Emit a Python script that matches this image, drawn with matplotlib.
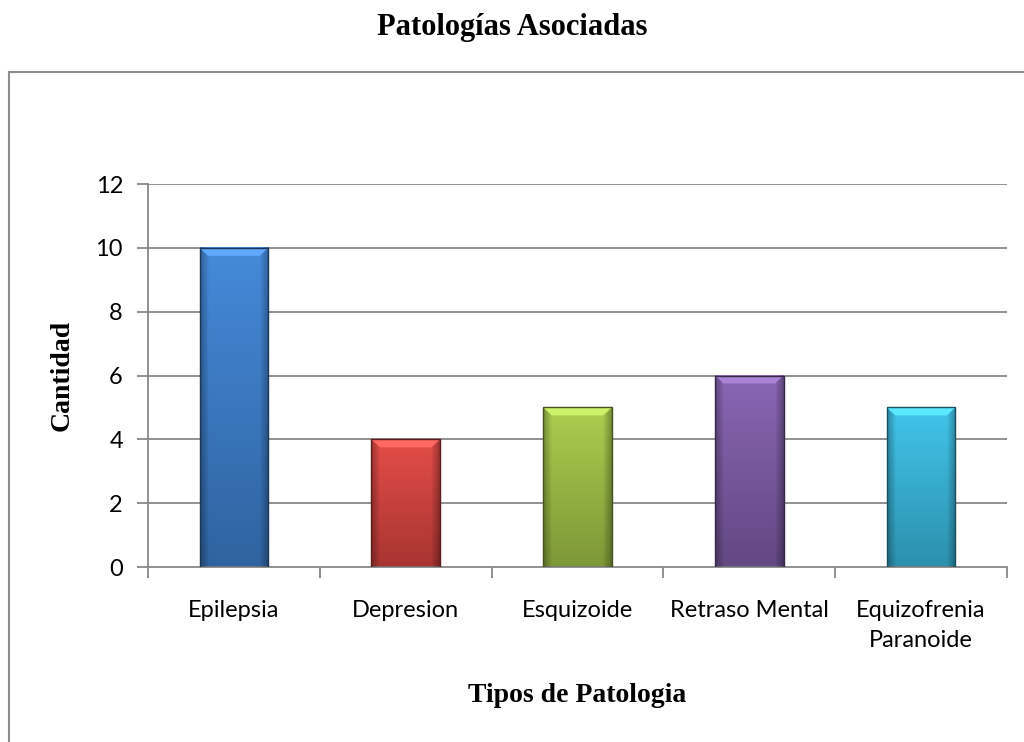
import numpy as np
import matplotlib.pyplot as plt
from matplotlib.lines import Line2D
from matplotlib.patches import Polygon
from matplotlib.colors import to_rgb

categorias = ['Epilepsia', 'Depresion', 'Esquizoide', 'Retraso Mental', 'Equizofrenia\nParanoide']
cantidad = [10, 4, 5, 6, 5]
colores = ['#3b7cc8', '#d2423e', '#9cbd45', '#7c5aa4', '#37b4d8']

fig = plt.figure(figsize=(10.24, 7.42), dpi=100)
ax = fig.add_axes([148/1024, 1-567/742, (1007-148)/1024, (567-184)/742])

grid_col = '#888888'
ax.set_xlim(-0.5, len(categorias) - 0.5)
ax.set_ylim(0, 12)
ax.set_yticks(range(0, 13, 2))
for y in range(2, 13, 2):
    ax.axhline(y, color=grid_col, lw=1.3, zorder=1)

# Bars with simple vertical gradient and a bevelled top
w = 0.4
for i, (v, c) in enumerate(zip(cantidad, colores)):
    base = np.array(to_rgb(c))
    light = np.clip(base * 1.05 + 0.03, 0, 1)
    dark = base * 0.8
    grad = np.linspace(0, 1, 100)[:, None, None]
    img = dark * (1 - grad) + light * grad
    ax.imshow(img, extent=[i - w/2, i + w/2, 0, v], aspect='auto',
              origin='lower', zorder=2, interpolation='bilinear')
    # side shading
    side = np.linspace(0, 1, 60)
    alpha = np.clip(np.abs(side - 0.5) * 2 - 0.75, 0, 1) / 0.25 * 0.3
    shade = np.zeros((1, 60, 4))
    shade[..., 3] = alpha
    ax.imshow(shade, extent=[i - w/2, i + w/2, 0, v], aspect='auto', zorder=3)
    bev = Polygon([[i - w/2, v], [i + w/2, v], [i + w/2 - 0.05, v - 0.25],
                   [i - w/2 + 0.05, v - 0.25]], closed=True,
                  facecolor=np.clip(base * 1.12 + 0.12, 0, 1), edgecolor='none', zorder=4)
    ax.add_patch(bev)
    ax.add_patch(plt.Rectangle((i - w/2, 0), w, v, fill=False,
                               edgecolor=dark * 0.55, lw=1.0, zorder=5))

ax.set_xticks(range(len(categorias)))
ax.set_xticklabels(categorias, fontsize=17, family='Lato', linespacing=1.5)
ax.set_xticks(np.arange(-0.5, len(categorias), 1), minor=True)
ax.tick_params(axis='x', which='major', length=0, pad=24)
ax.tick_params(axis='x', which='minor', length=8, width=1.3, color=grid_col)
ax.tick_params(axis='y', length=8, width=1.3, color=grid_col, labelsize=17, pad=10)
for lab in ax.get_yticklabels():
    lab.set_family('Lato')

for s in ['top', 'right']:
    ax.spines[s].set_visible(False)
for s in ['left', 'bottom']:
    ax.spines[s].set_color(grid_col)
    ax.spines[s].set_linewidth(1.3)

ax.set_ylabel('Cantidad', fontsize=20, fontweight='bold', family='Liberation Serif')
ax.yaxis.set_label_coords(-86/859, 0.5)
ax.set_xlabel('Tipos de Patologia', fontsize=20, fontweight='bold', family='Liberation Serif')
ax.xaxis.set_label_coords(0.5, -(696-567)/383)
ax.xaxis.label.set_va('center')
ax.yaxis.label.set_va('center')
fig.text(0.5, 1-28/742, 'Patologías Asociadas', ha='center', va='center',
         fontsize=22, fontweight='bold', family='Liberation Serif')

# chart border (left and top visible)
fig.add_artist(Line2D([9/1024, 9/1024], [0, 1-72/742], color='#8c8c8c', lw=1.5))
fig.add_artist(Line2D([9/1024, 1], [1-72/742, 1-72/742], color='#8c8c8c', lw=1.5))

fig.savefig('out.png', dpi=100)
